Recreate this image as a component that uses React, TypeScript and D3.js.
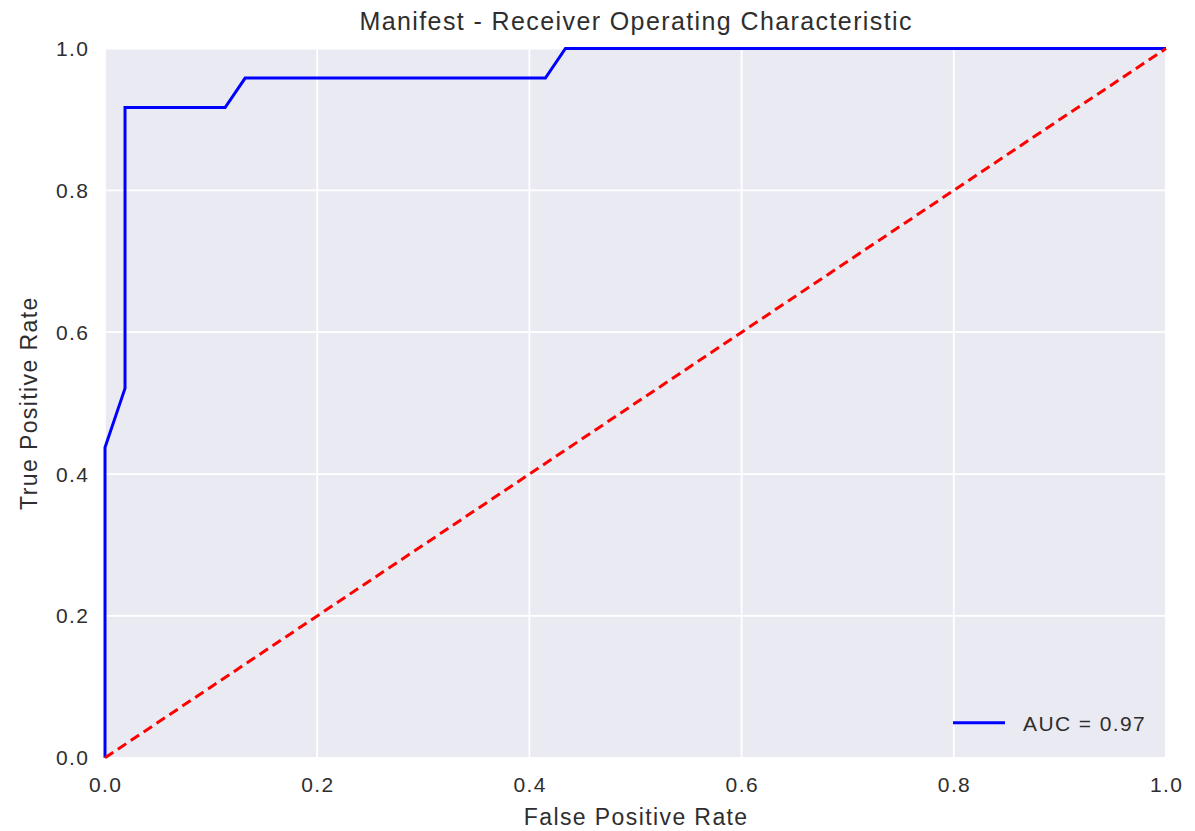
import React from "react";
import * as d3 from "d3";

const fpr = [0, 0, 1 / 53, 1 / 53, 6 / 53, 7 / 53, 22 / 53, 23 / 53, 1];
const tpr = [0, 21 / 48, 25 / 48, 44 / 48, 44 / 48, 46 / 48, 46 / 48, 1, 1];
const chanceLine = [0, 1];
const xTicks = [0, 0.2, 0.4, 0.6, 0.8, 1.0];
const yTicks = [0, 0.2, 0.4, 0.6, 0.8, 1.0];
const titleText = "Manifest - Receiver Operating Characteristic";
const xLabel = "False Positive Rate";
const yLabel = "True Positive Rate";
const legendLabel = "AUC = 0.97";

const W = 1195;
const H = 831;
const L = 105, R = 1166, T = 48.5, B = 757.8;
const FONT = "'Liberation Sans', Arial, sans-serif";
const LS = 1.4;
const TXT = "#2e2e2e";

export default function App() {
  const x = d3.scaleLinear().domain([0, 1]).range([L, R]);
  const y = d3.scaleLinear().domain([0, 1]).range([B, T]);
  const line = d3.line<number>().x((_, i) => x(fpr[i])).y((d) => y(d));
  const roc = line(tpr) || "";
  const diag = d3.line<number>().x((d) => x(d)).y((d) => y(d))(chanceLine) || "";
  const fmt = d3.format(".1f");
  return (
    <svg width={W} height={H} style={{ position: "absolute", left: 0, top: 0 }}>
      <rect x={0} y={0} width={W} height={H} fill="#ffffff" />
      <rect x={L} y={T} width={R - L} height={B - T} fill="#EAEAF2" />
      {xTicks.map((t) => (
        <line key={"gx" + t} x1={x(t)} x2={x(t)} y1={T} y2={B} stroke="#ffffff" strokeWidth={1.8} />
      ))}
      {yTicks.map((t) => (
        <line key={"gy" + t} x1={L} x2={R} y1={y(t)} y2={y(t)} stroke="#ffffff" strokeWidth={1.8} />
      ))}
      <defs>
        <clipPath id="clip">
          <rect x={L - 2} y={T - 2} width={R - L + 4} height={B - T + 4} />
        </clipPath>
      </defs>
      <g clipPath="url(#clip)">
        <path d={roc} fill="none" stroke="#0000ff" strokeWidth={3} strokeLinejoin="miter" />
        <path d={diag} fill="none" stroke="#ff0000" strokeWidth={3} strokeDasharray="10,5.5" />
      </g>
      {xTicks.map((t) => (
        <text key={"tx" + t} x={x(t) + LS / 2} y={792} textAnchor="middle" fontFamily={FONT} fontSize={21} letterSpacing={LS} fill={TXT}>
          {fmt(t)}
        </text>
      ))}
      {yTicks.map((t) => (
        <text key={"ty" + t} x={88 + LS} y={y(t) + 7.5} textAnchor="end" fontFamily={FONT} fontSize={21} letterSpacing={LS} fill={TXT}>
          {fmt(t)}
        </text>
      ))}
      <text x={(L + R) / 2 + LS / 2} y={29.5} textAnchor="middle" fontFamily={FONT} fontSize={25} letterSpacing={LS} fill={TXT}>
        {titleText}
      </text>
      <text x={(L + R) / 2 + LS / 2} y={825} textAnchor="middle" fontFamily={FONT} fontSize={23} letterSpacing={LS} fill={TXT}>
        {xLabel}
      </text>
      <text transform={`translate(36.5,${(T + B) / 2}) rotate(-90)`} textAnchor="middle" fontFamily={FONT} fontSize={23} letterSpacing={LS} fill={TXT}>
        {yLabel}
      </text>
      <line x1={953} x2={1005} y1={722.7} y2={722.7} stroke="#0000ff" strokeWidth={3} />
      <text x={1023} y={731} fontFamily={FONT} fontSize={21} letterSpacing={LS} fill={TXT}>
        {legendLabel}
      </text>
    </svg>
  );
}
